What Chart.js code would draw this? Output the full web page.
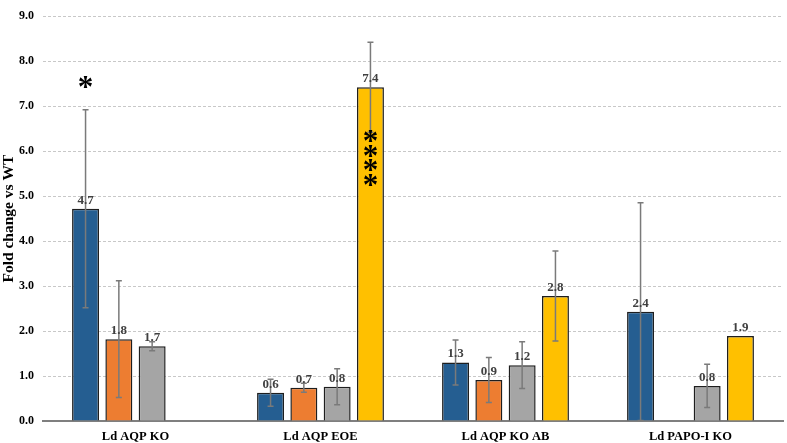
<!DOCTYPE html>
<html>
<head>
<meta charset="utf-8">
<script src="https://cdn.jsdelivr.net/npm/chart.js@4/dist/chart.umd.min.js"></script>
<style>
html,body{margin:0;padding:0;background:#fff;}
#wrap{width:787px;height:443px;position:relative;}
</style>
</head>
<body>
<div id="wrap"><canvas id="c"></canvas></div>
<script>
const categories = ["Ld AQP KO", "Ld AQP EOE", "Ld AQP KO AB", "Ld PAPO-I KO"];
const yTicks = [0, 1, 2, 3, 4, 5, 6, 7, 8, 9];

const blueValues   = [4.72, 0.63, 1.30, 2.43];
const blueErrors   = [2.20, 0.30, 0.50, 2.42];
const orangeValues = [1.82, 0.74, 0.91, null];
const orangeErrors = [1.30, 0.10, 0.50, null];
const grayValues   = [1.66, 0.76, 1.24, 0.78];
const grayErrors   = [0.10, 0.40, 0.52, 0.48];
const yellowValues = [null, 7.42, 2.78, 1.89];
const yellowErrors = [null, 1.00, 1.00, null];

// significance marks: [datasetIndex, categoryIndex, text, placement]
const sigDataset  = [0, 3];
const sigCategory = [0, 1];
const sigText     = ["*", "****"];
const sigPlace    = ["above", "inside"];

const serif = "'Liberation Serif', 'Times New Roman', serif";

const errorPlugin = {
  id: 'errs',
  afterDatasetsDraw(chart) {
    const ctx = chart.ctx;
    const y = chart.scales.y;
    ctx.save();
    chart.data.datasets.forEach((ds, di) => {
      const meta = chart.getDatasetMeta(di);
      meta.data.forEach((bar, i) => {
        const v = ds.data[i], e = ds.errors[i];
        if (v == null || e == null) return;
        const x = bar.x;
        const yt = y.getPixelForValue(v + e);
        const yb = y.getPixelForValue(Math.max(0, v - e));
        ctx.strokeStyle = '#7a7a7a';
        ctx.lineWidth = 1.5;
        ctx.beginPath();
        ctx.moveTo(x, yt); ctx.lineTo(x, yb);
        ctx.moveTo(x - 3, yt); ctx.lineTo(x + 3, yt);
        ctx.moveTo(x - 3, yb); ctx.lineTo(x + 3, yb);
        ctx.stroke();
      });
    });
    // value labels
    ctx.font = "bold 13px " + serif;
    ctx.fillStyle = '#404040';
    ctx.textAlign = 'center';
    ctx.textBaseline = 'bottom';
    chart.data.datasets.forEach((ds, di) => {
      const meta = chart.getDatasetMeta(di);
      meta.data.forEach((bar, i) => {
        const v = ds.data[i];
        if (v == null) return;
        ctx.fillText(v.toFixed(1), bar.x, bar.y - 2);
      });
    });
    // significance asterisks
    ctx.fillStyle = '#000';
    sigText.forEach((t, k) => {
      const di = sigDataset[k], ci = sigCategory[k];
      const ds = chart.data.datasets[di];
      const bar = chart.getDatasetMeta(di).data[ci];
      const v = ds.data[ci], e = ds.errors[ci] || 0;
      ctx.font = "bold 31px " + serif;
      ctx.textBaseline = 'middle';
      if (sigPlace[k] === 'above') {
        const yt = y.getPixelForValue(v + e);
        ctx.fillText(t, bar.x, yt - 21);
      } else {
        const yb = y.getPixelForValue(v - e);
        for (let j = 0; j < t.length; j++) {
          ctx.fillText(t[j], bar.x, yb + 11 + j * 14.5);
        }
      }
    });
    ctx.restore();
  }
};

const mk = (label, data, errors, color) => ({
  label, data, errors,
  backgroundColor: color,
  borderColor: '#1e1e1e',
  borderWidth: 1.5,
  borderSkipped: 'bottom',
  barPercentage: 0.81,
  categoryPercentage: 0.72
});

new Chart(document.getElementById('c'), {
  type: 'bar',
  data: {
    labels: categories,
    datasets: [
      mk('Series 1', blueValues, blueErrors, '#255E91'),
      mk('Series 2', orangeValues, orangeErrors, '#ED7D31'),
      mk('Series 3', grayValues, grayErrors, '#A5A5A5'),
      mk('Series 4', yellowValues, yellowErrors, '#FFC000')
    ]
  },
  options: {
    responsive: true,
    maintainAspectRatio: false,
    animation: false,
    devicePixelRatio: 1,
    layout: { padding: { top: 1, right: 4, left: 0, bottom: 0 } },
    plugins: { legend: { display: false }, tooltip: { enabled: false } },
    scales: {
      x: {
        grid: { display: false, drawTicks: false },
        border: { display: true, color: '#7f7f7f', width: 2 },
        ticks: { color: '#000', font: { family: serif, weight: 'bold', size: 12.5 }, padding: 8 },
        afterFit(s) { s.height = 22; }
      },
      y: {
        min: 0, max: 9,
        afterBuildTicks(s) { s.ticks = yTicks.map(v => ({ value: v })); },
        grid: { color: '#c8c8c8', drawTicks: false, lineWidth: 1 },
        border: { display: false, dash: [3, 2] },
        ticks: {
          color: '#000', padding: 9,
          font: { family: serif, weight: 'bold', size: 12 },
          callback: v => v.toFixed(1)
        },
        title: { display: true, text: 'Fold change vs WT', color: '#000', font: { family: serif, weight: 'bold', size: 15.5 }, padding: 0 },
        afterFit(s) { s.width = 43; }
      }
    }
  },
  plugins: [errorPlugin]
});
</script>
</body>
</html>
